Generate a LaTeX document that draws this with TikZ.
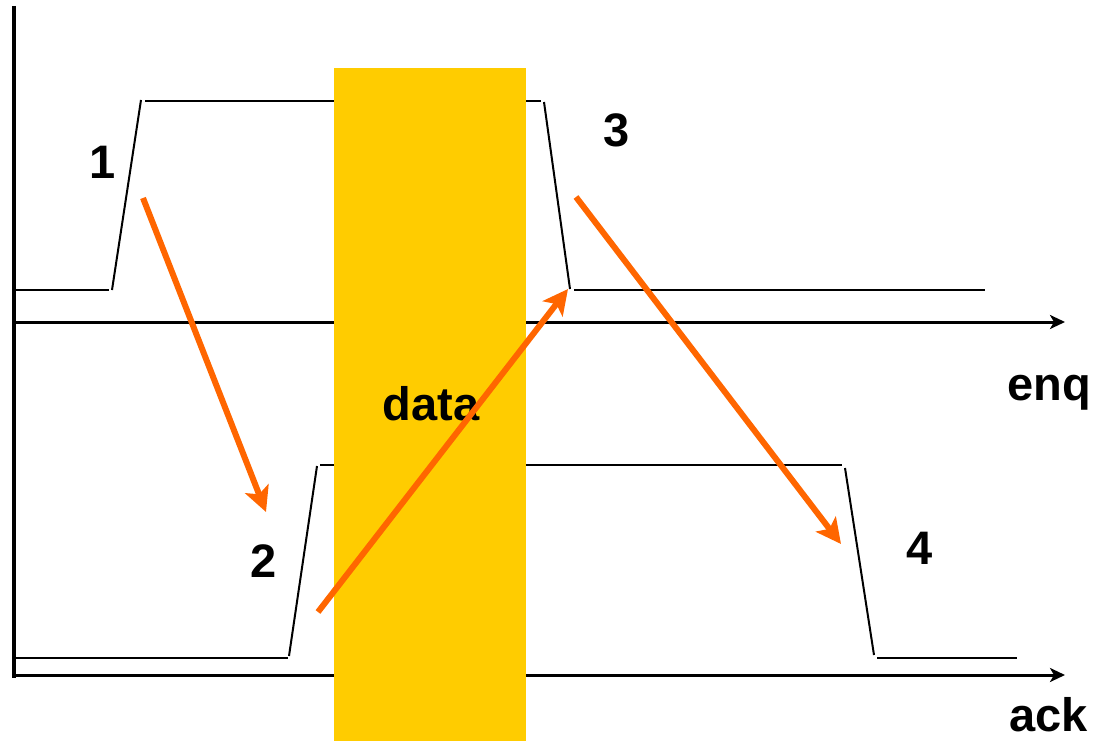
\documentclass[tikz,border=0pt]{standalone}
\usepackage{fontspec}
\setmainfont{Liberation Sans}
\usetikzlibrary{arrows.meta}
\definecolor{gold400}  {HTML}{FFCC00}
\definecolor{orange600}{HTML}{FF6600}
\tikzset{
  axis/.style  ={draw=black, line width=3pt,
                 -{Stealth[length=15pt,width=14pt,inset=4pt]}},
  wave/.style  ={draw=black, line width=2pt},
  hs/.style    ={draw=orange600, line width=6pt,
                 -{Stealth[length=25pt,width=25pt,inset=6pt]}},
  lbl/.style   ={font=\fontsize{47}{50}\selectfont\bfseries, inner sep=0pt},
  window/.style={fill=gold400, draw=none}
}
\begin{document}
\begin{tikzpicture}[x=1pt,y=-1pt]
\useasboundingbox (0,0) rectangle (1097,741);
\coordinate (origin) at (14,6);
\coordinate (yend)   at (14,678);
\coordinate (enq0)   at (15,322);
\coordinate (enq1)   at (1065,322);
\coordinate (ack0)   at (15,675);
\coordinate (ack1)   at (1065,675);
\coordinate (s1) at (143,198);  \coordinate (t1) at (266,512);
\coordinate (s2) at (318,612);  \coordinate (t2) at (568,289);
\coordinate (s3) at (576,197);  \coordinate (t3) at (841,544);

\draw[wave] (15,290) -- (109,290);
\draw[wave] (112,290) -- (141,100);
\draw[wave] (145,101) -- (541,101);
\draw[wave] (544,102) -- (570,289);
\draw[wave] (574,290) -- (985,290);

\draw[wave] (15,658) -- (288,658);
\draw[wave] (289,656) -- (317,466);
\draw[wave] (320,465) -- (842,465);
\draw[wave] (845,468) -- (874,655);
\draw[wave] (877,658) -- (1017,658);

\draw[line width=4pt] (origin) -- (yend);
\draw[axis] (enq0) -- (enq1);
\draw[axis] (ack0) -- (ack1);

\fill[window] (334,68) rectangle (526,741);
\node[lbl, anchor=base] (data) at (431,420) {data};

\draw[hs] (s1) -- (t1);
\draw[hs] (s2) -- (t2);
\draw[hs] (s3) -- (t3);

\node[lbl] (n1) at (103,162) {1};
\node[lbl] (n2) at (264,561) {2};
\node[lbl] (n3) at (617,130) {3};
\node[lbl] (n4) at (920,548) {4};
\node[lbl, anchor=base west] (enq) at (1007,400) {enq};
\node[lbl, anchor=base west] (ack) at (1009,731) {ack};
\end{tikzpicture}
\end{document}
